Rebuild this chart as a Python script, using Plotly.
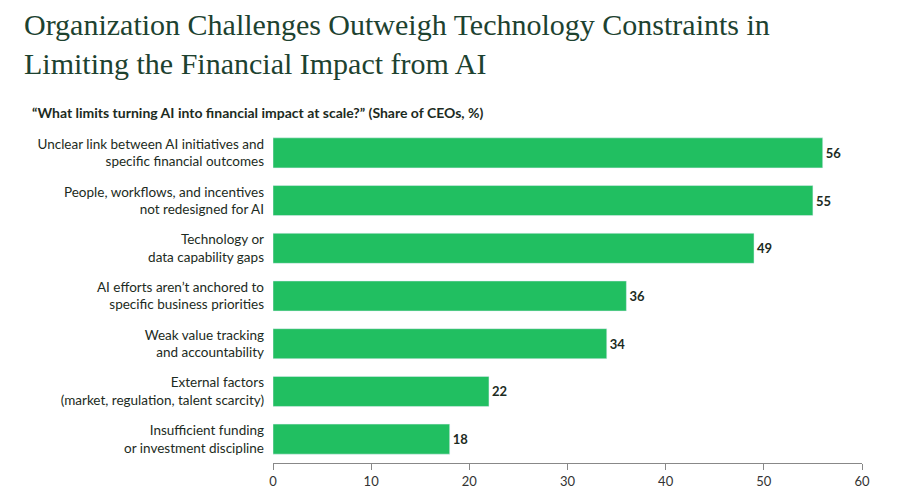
import plotly.graph_objects as go

categories = [
    "Unclear link between AI initiatives and<br>specific financial outcomes",
    "People, workflows, and incentives<br>not redesigned for AI",
    "Technology or<br>data capability gaps",
    "AI efforts aren’t anchored to<br>specific business priorities",
    "Weak value tracking<br>and accountability",
    "External factors<br>(market, regulation, talent scarcity)",
    "Insufficient funding<br>or investment discipline",
]
values = [56, 55, 49, 36, 34, 22, 18]

fig = go.Figure(go.Bar(
    x=values, y=categories, orientation="h",
    marker_color="#21BF61",
    text=["<b>%d</b>" % v for v in values], textposition="outside",
    textfont=dict(family="Lato", size=13, color="#1c2b22"),
    cliponaxis=False,
))
fig.update_layout(
    width=900, height=502,
    margin=dict(l=265, r=46, t=121, b=47),
    plot_bgcolor="white", paper_bgcolor="white",
    bargap=0.37, showlegend=False,
    font=dict(family="Lato", color="#1c2b22"),
    annotations=[
        dict(text="Organization Challenges Outweigh Technology Constraints in<br>Limiting the Financial Impact from AI",
             xref="paper", yref="paper", x=-251/589, y=1, yshift=123, xanchor="left", yanchor="top",
             align="left", showarrow=False,
             font=dict(family="Liberation Serif", size=30, color="#1d4230")),
        dict(text="<b>“What limits turning AI into financial impact at scale?” (Share of CEOs, %)</b>",
             xref="paper", yref="paper", x=-243/589, y=1, yshift=17, xanchor="left", yanchor="middle",
             showarrow=False, font=dict(family="Lato", size=14, color="#1c2b22")),
    ],
)
fig.update_xaxes(range=[0, 60], dtick=10, showgrid=False, zeroline=False,
                 showline=True, linecolor="#888", ticks="outside", ticklen=6,
                 tickcolor="#888", tickfont=dict(size=13, color="#333"))
fig.update_yaxes(autorange="reversed", showgrid=False, ticks="", ticklabelstandoff=8,
                 tickfont=dict(size=13.5, color="#1c2b22"))
fig.write_html("out.html")
